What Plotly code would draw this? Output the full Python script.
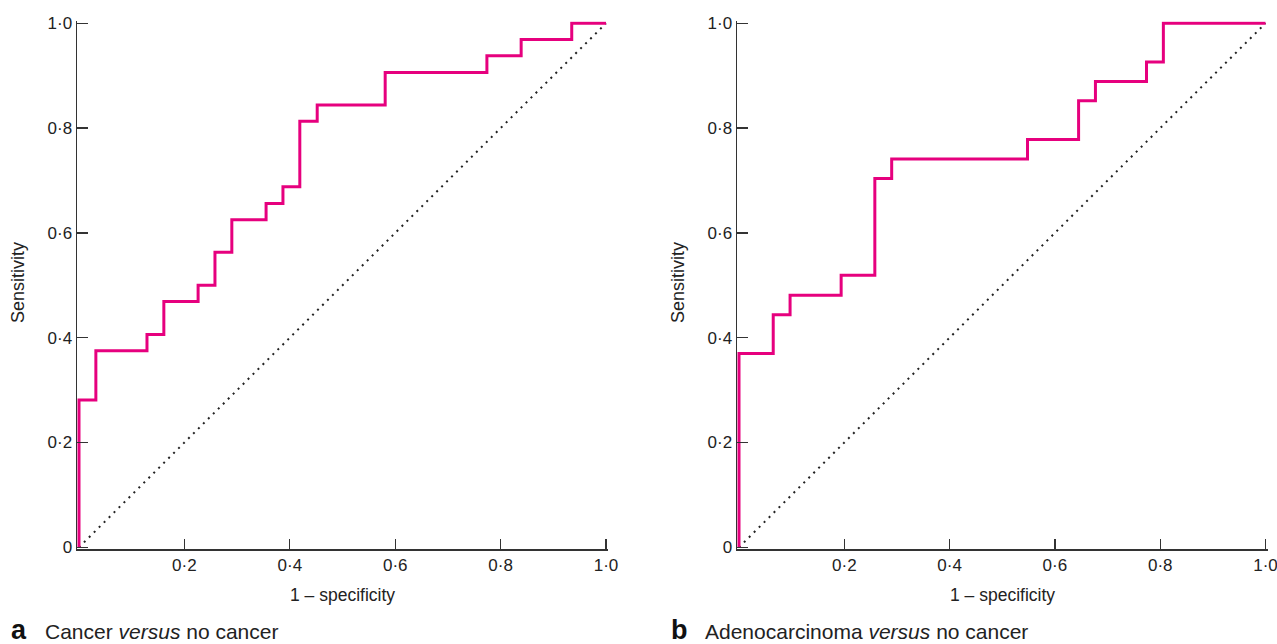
import plotly.graph_objects as go

# ---------------- data ----------------
fpr_a = [0, 0, 0.032, 0.129, 0.161, 0.226, 0.258, 0.290, 0.355, 0.387, 0.419, 0.452, 0.581, 0.774, 0.839, 0.935, 1.0]
tpr_a = [0, 0.281, 0.375, 0.406, 0.469, 0.500, 0.563, 0.625, 0.656, 0.688, 0.813, 0.844, 0.906, 0.938, 0.969, 1.0, 1.0]

fpr_b = [0, 0, 0.065, 0.097, 0.194, 0.258, 0.290, 0.548, 0.645, 0.677, 0.774, 0.806, 1.0]
tpr_b = [0, 0.370, 0.444, 0.481, 0.519, 0.704, 0.741, 0.778, 0.852, 0.889, 0.926, 1.0, 1.0]

chance = [0, 1]

x_tickvals = [0.2, 0.4, 0.6, 0.8, 1.0]
x_ticktext = ["0·2", "0·4", "0·6", "0·8", "1·0"]
y_tickvals = [0, 0.2, 0.4, 0.6, 0.8, 1.0]
y_ticktext = ["0", "0·2", "0·4", "0·6", "0·8", "1·0"]

x_title = "1 – specificity"
y_title = "Sensitivity"
panel_letters = ["a", "b"]
panel_captions = ["Cancer <i>versus</i> no cancer", "Adenocarcinoma <i>versus</i> no cancer"]

# ---------------- layout geometry ----------------
W, H = 1277, 644
FONT = "Liberation Sans, Arial, Helvetica, sans-serif"
PINK = "#E6007E"
AXC = "#333333"
TXT = "#222222"
PAD = 0.004

panels = [  # pixel positions of value 0 and value 1 on each axis
    dict(x0=79, x1=606, y0=547.3, y1=23.3),
    dict(x0=739, x1=1265.5, y0=547.3, y1=23.3),
]

fig = go.Figure()

series = [(fpr_a, tpr_a), (fpr_b, tpr_b)]
for i, (fx, ty) in enumerate(series):
    xa = "x" if i == 0 else "x2"
    ya = "y" if i == 0 else "y2"
    fig.add_trace(go.Scatter(x=chance, y=chance, mode="lines", xaxis=xa, yaxis=ya,
                             line=dict(color="#222222", width=2, dash="2px,5px"),
                             hoverinfo="skip", showlegend=False))
    fig.add_trace(go.Scatter(x=fx, y=ty, mode="lines", xaxis=xa, yaxis=ya,
                             line=dict(color=PINK, width=3, shape="hv"),
                             showlegend=False))

layout = dict(width=W, height=H, margin=dict(l=0, r=0, t=0, b=0, pad=0),
              paper_bgcolor="white", plot_bgcolor="white", autosize=False,
              font=dict(family=FONT, color=TXT, size=17))

annotations = []
for i, p in enumerate(panels):
    sx = p["x1"] - p["x0"]
    sy = p["y0"] - p["y1"]
    dx = [(p["x0"] - PAD * sx) / W, (p["x1"] + PAD * sx) / W]
    dy = [1 - (p["y0"] + PAD * sy) / H, 1 - (p["y1"] - PAD * sy) / H]
    suf = "" if i == 0 else "2"
    layout["xaxis" + suf] = dict(
        domain=dx, range=[-PAD, 1 + PAD], anchor="y" + suf, automargin=False,
        tickmode="array", tickvals=x_tickvals, ticktext=x_ticktext,
        ticks="inside", ticklen=10, tickwidth=1.3, tickcolor=AXC, ticklabeloverflow="allow",
        showline=True, linecolor=AXC, linewidth=1.3, showgrid=False, zeroline=False,
        tickfont=dict(family=FONT, size=17, color=TXT), fixedrange=True)
    layout["yaxis" + suf] = dict(
        domain=dy, range=[-PAD, 1 + PAD], anchor="x" + suf, automargin=False,
        tickmode="array", tickvals=y_tickvals, ticktext=y_ticktext,
        ticks="inside", ticklen=11, tickwidth=1.3, tickcolor=AXC, ticklabeloverflow="allow",
        showline=True, linecolor=AXC, linewidth=1.3, showgrid=False, zeroline=False,
        tickfont=dict(family=FONT, size=17, color=TXT), fixedrange=True)
    cx = (p["x0"] + p["x1"]) / 2
    # x title
    annotations.append(dict(text=x_title, x=cx / W, y=1 - 595 / H, xref="paper", yref="paper",
                            xanchor="center", yanchor="middle", showarrow=False,
                            font=dict(family=FONT, size=17.5, color=TXT)))
    # y title
    annotations.append(dict(text=y_title, x=(p["x0"] - 61) / W, y=1 - 283 / H, xref="paper", yref="paper",
                            xanchor="center", yanchor="middle", showarrow=False, textangle=-90,
                            font=dict(family=FONT, size=18, color=TXT)))
    # panel letter
    annotations.append(dict(text="<b>" + panel_letters[i] + "</b>", x=(p["x0"] - 70) / W, y=1 - 630 / H,
                            xref="paper", yref="paper", xanchor="left", yanchor="middle",
                            showarrow=False, font=dict(family=FONT, size=27, color="#111111")))
    # caption
    annotations.append(dict(text=panel_captions[i], x=(p["x0"] - 36) / W, y=1 - 631 / H,
                            xref="paper", yref="paper", xanchor="left", yanchor="middle",
                            showarrow=False, font=dict(family=FONT, size=21, color=TXT)))

layout["annotations"] = annotations
fig.update_layout(**layout)

fig.write_html("out.html", config={"displayModeBar": False, "staticPlot": True},
               post_script="document.body.style.margin='0';document.body.style.padding='0';"
                           "document.body.style.overflow='hidden';")
